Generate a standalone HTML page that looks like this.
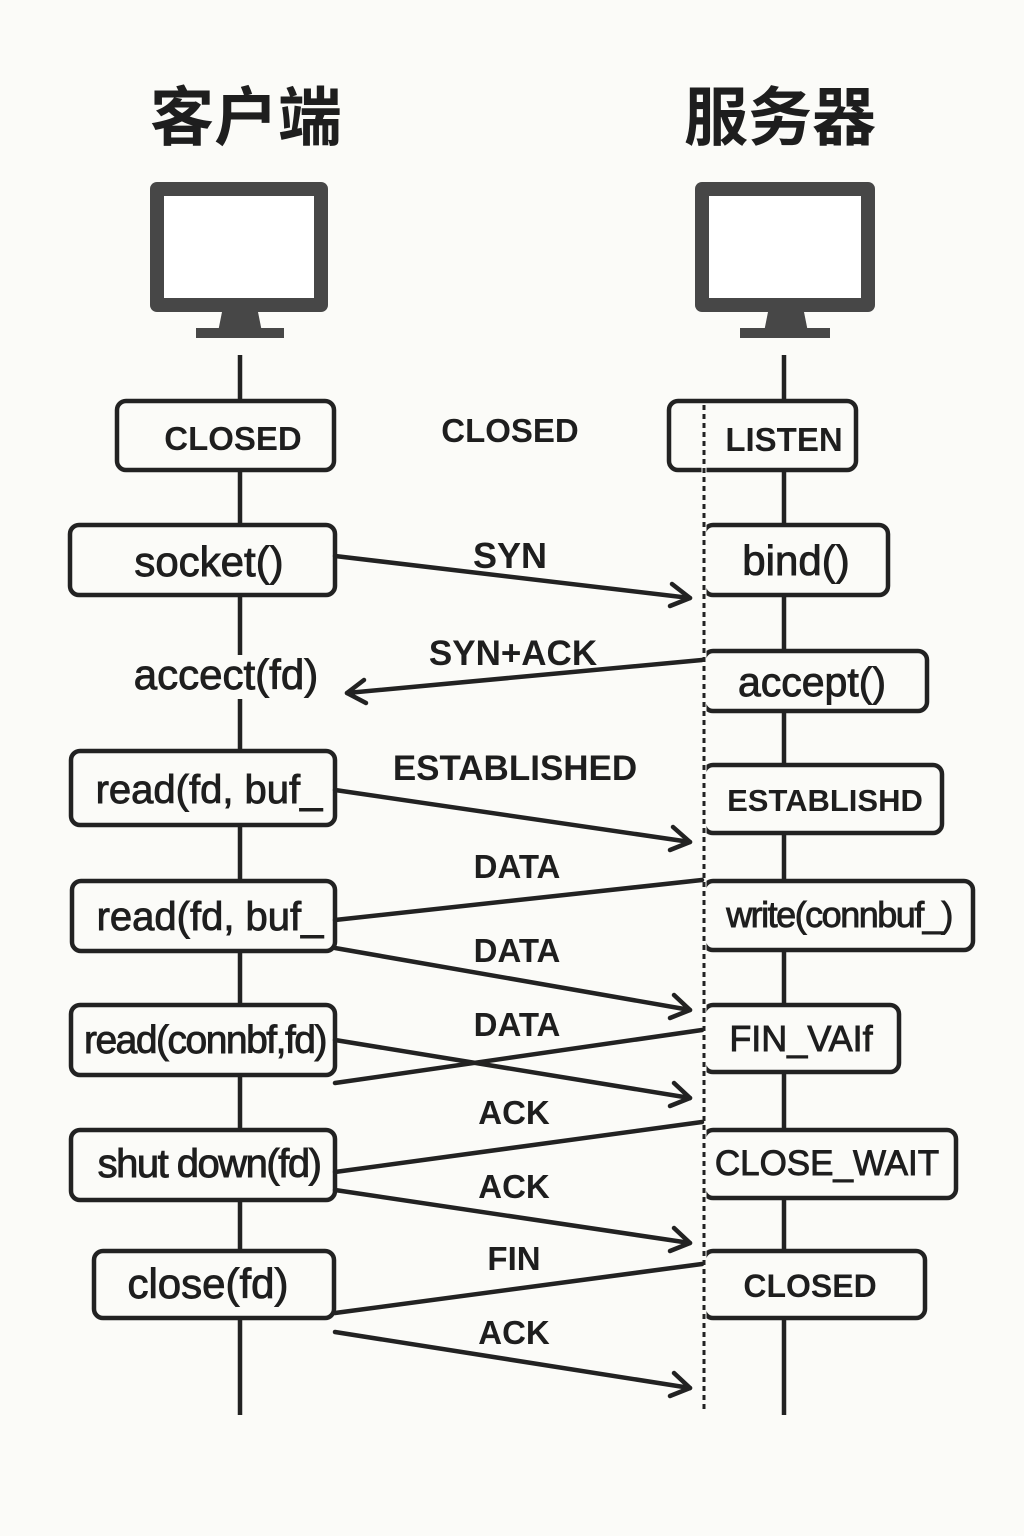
<!DOCTYPE html><html><head><meta charset="utf-8"><style>html,body{margin:0;padding:0;background:#fbfbf8}svg{display:block}</style></head><body>
<svg width="1024" height="1536" viewBox="0 0 1024 1536" xmlns="http://www.w3.org/2000/svg">
<rect width="1024" height="1536" fill="#fbfbf8"/>
<g font-family="'Noto Sans CJK SC','WenQuanYi Zen Hei',sans-serif" font-weight="bold" font-size="64" fill="#1e1e1e" text-anchor="middle">
<text x="246" y="140">客户端</text><text x="780" y="140">服务器</text></g>
<g fill="#474747">
<rect x="150" y="182" width="178" height="130" rx="7"/><rect x="164" y="196" width="150" height="102" fill="#fff"/>
<polygon points="222,312 258,312 262,332 218,332"/><rect x="196" y="328" width="88" height="10"/>
<rect x="695" y="182" width="180" height="130" rx="7"/><rect x="709" y="196" width="152" height="102" fill="#fff"/>
<polygon points="768,312 804,312 808,332 764,332"/><rect x="740" y="328" width="90" height="10"/>
</g>
<g stroke="#222" stroke-width="4.5" fill="none">
<line x1="240" y1="355" x2="240" y2="1415"/><line x1="784" y1="355" x2="784" y2="1415"/>
</g>
<rect x="130" y="655" width="192" height="44" fill="#fbfbf8"/>
<g stroke="#222" stroke-width="4.5" fill="#fbfbf8">
<rect x="117" y="401" width="217" height="69" rx="9"/>
<rect x="70" y="525" width="265" height="70" rx="9"/>
<rect x="71" y="751" width="264" height="74" rx="9"/>
<rect x="72" y="881" width="263" height="70" rx="9"/>
<rect x="71" y="1005" width="264" height="70" rx="9"/>
<rect x="71" y="1130" width="264" height="70" rx="9"/>
<rect x="94" y="1251" width="240" height="67" rx="9"/>
<rect x="669" y="401" width="187" height="69" rx="9"/>
<rect x="704" y="525" width="184" height="70" rx="9"/>
<rect x="704" y="651" width="223" height="60" rx="9"/>
<rect x="704" y="765" width="238" height="68" rx="9"/>
<rect x="704" y="881" width="269" height="69" rx="9"/>
<rect x="704" y="1005" width="195" height="67" rx="9"/>
<rect x="704" y="1130" width="252" height="68" rx="9"/>
<rect x="704" y="1251" width="221" height="67" rx="9"/>
</g>
<line x1="704" y1="405" x2="704" y2="1412" stroke="#fbfbf8" stroke-width="5"/>
<line x1="704" y1="405" x2="704" y2="1412" stroke="#222" stroke-width="3" stroke-dasharray="5,4"/>
<g stroke="#222" stroke-width="4.5" fill="none" stroke-linecap="round" stroke-linejoin="round">
<line x1="335" y1="556" x2="690" y2="598"/><polyline points="672,584 690,598 670,606"/>
<line x1="702" y1="660" x2="347" y2="693"/><polyline points="364,680 347,693 366,703"/>
<line x1="335" y1="790" x2="690" y2="842"/><polyline points="673,827 690,842 670,850"/>
<line x1="702" y1="880" x2="335" y2="920"/>
<line x1="335" y1="948" x2="690" y2="1010"/><polyline points="674,995 690,1010 670,1018"/>
<line x1="335" y1="1040" x2="690" y2="1098"/><polyline points="674,1083 690,1098 670,1106"/>
<line x1="702" y1="1030" x2="335" y2="1083"/>
<line x1="702" y1="1122" x2="335" y2="1172"/>
<line x1="335" y1="1190" x2="690" y2="1243"/><polyline points="674,1228 690,1243 670,1251"/>
<line x1="702" y1="1264" x2="335" y2="1313"/>
<line x1="335" y1="1332" x2="690" y2="1388"/><polyline points="674,1373 690,1388 670,1396"/>
</g>
<g font-family="'Liberation Sans',sans-serif" fill="#1e1e1e" stroke="#1e1e1e" stroke-width="0.9" text-anchor="middle" font-size="42">
<text x="209" y="576">socket()</text>
<text x="226" y="689">accect(fd)</text>
<text x="209" y="803" font-size="40">read(fd, buf_</text>
<text x="210" y="930" font-size="40">read(fd, buf_</text>
<text x="205" y="1053" font-size="39" letter-spacing="-1.5">read(connbf,fd)</text>
<text x="209" y="1177" font-size="40" letter-spacing="-1.5">shut down(fd)</text>
<text x="208" y="1298">close(fd)</text>
<text x="796" y="575">bind()</text>
<text x="812" y="696" font-size="41">accept()</text>
<text x="839" y="927" font-size="36" letter-spacing="-1.5">write(connbuf_)</text>
<text x="801" y="1051" font-size="36">FIN_VAIf</text>
<text x="827" y="1175" font-size="35">CLOSE_WAIT</text>
</g>
<g font-family="'Liberation Sans',sans-serif" fill="#1e1e1e" text-anchor="middle" font-weight="bold" font-size="33">
<text x="233" y="450">CLOSED</text>
<text x="784" y="451">LISTEN</text>
<text x="825" y="811" font-size="31">ESTABLISHD</text>
<text x="810" y="1297" font-size="32">CLOSED</text>
<text x="510" y="442">CLOSED</text>
<text x="510" y="568" font-size="36">SYN</text>
<text x="513" y="665" font-size="35">SYN+ACK</text>
<text x="515" y="780" font-size="35">ESTABLISHED</text>
<text x="517" y="878">DATA</text>
<text x="517" y="962">DATA</text>
<text x="517" y="1036">DATA</text>
<text x="514" y="1124">ACK</text>
<text x="514" y="1198">ACK</text>
<text x="514" y="1270">FIN</text>
<text x="514" y="1344">ACK</text>
</g>
</svg></body></html>
